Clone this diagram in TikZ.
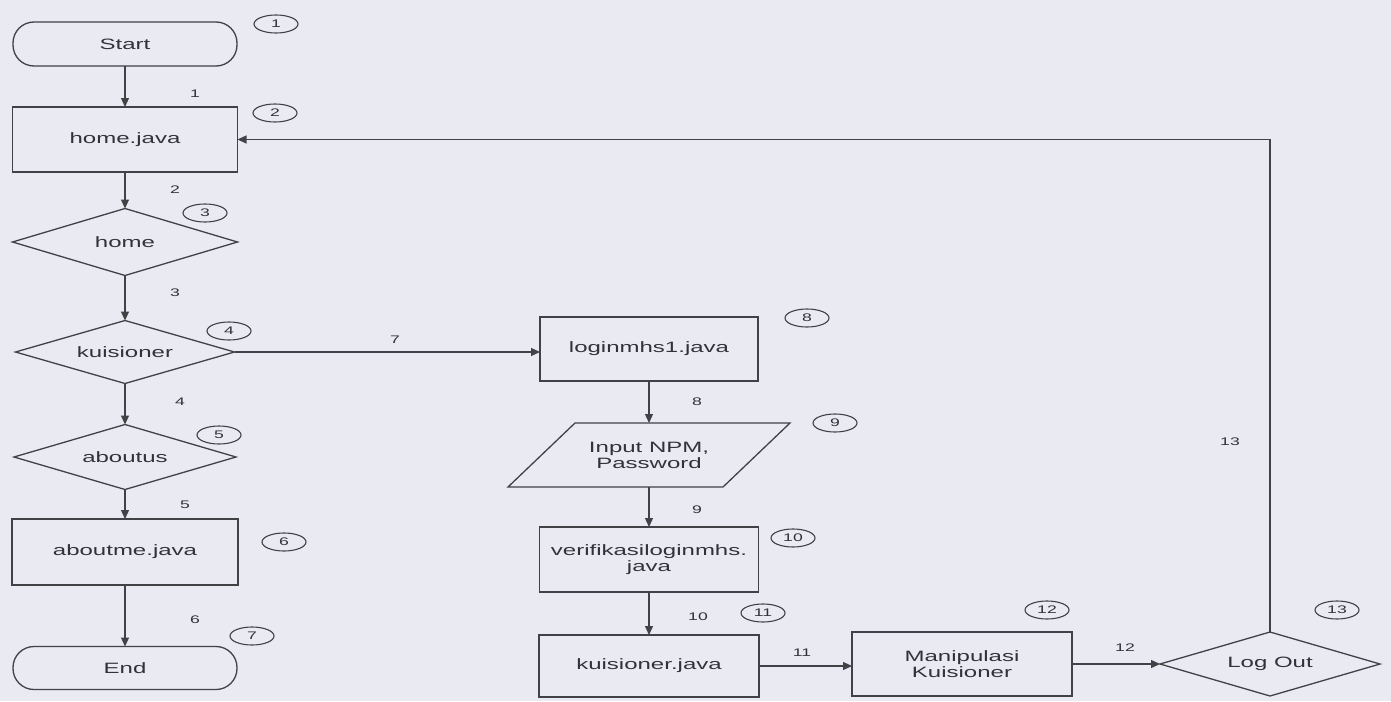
\documentclass[tikz,border=0pt]{standalone}
\usepackage{fontspec}
\newfontfamily\dfont[FakeStretch=1.6]{Liberation Sans}
\usetikzlibrary{arrows.meta,shapes.geometric,calc}
\definecolor{bg}{RGB}{234,234,243}
\definecolor{ln}{RGB}{65,65,70}
\definecolor{tx}{RGB}{50,50,55}
\begin{document}
\begin{tikzpicture}[x=1pt,y=-1pt,
  every node/.style={text=tx,font=\dfont\fontsize{15}{16}\selectfont,inner sep=0pt,outer sep=0pt},
  proc/.style={draw=ln,line width=1.3pt,rectangle,align=center},
  term/.style={draw=ln,line width=1.3pt,rectangle,rounded corners=21pt},
  deci/.style={draw=ln,line width=1.3pt,diamond,aspect=4},
  num/.style={draw=ln,line width=1.1pt,ellipse,minimum width=44pt,minimum height=18pt,font=\dfont\fontsize{11}{12}\selectfont},
  lbl/.style={font=\dfont\fontsize{11}{12}\selectfont},
  conn/.style={draw=ln,line width=1.3pt,-{Triangle[length=9pt,width=8pt]}},
  plainln/.style={draw=ln,line width=1.3pt}
]
\fill[bg] (0,0) rectangle (1391,701);
\useasboundingbox (0,0) rectangle (1391,701);

% left column
\node[term,minimum width=224pt,minimum height=44pt] (start) at (125,44) {Start};
\node[proc,minimum width=225pt,minimum height=65pt] (home) at (125,139.5) {home.java};
\node[deci,minimum width=225pt,minimum height=67pt] (homeD) at (125,242) {home};
\node[deci,minimum width=219pt,minimum height=63pt] (kuisD) at (125,352) {kuisioner};
\node[deci,minimum width=222pt,minimum height=65pt] (aboutD) at (125,457) {aboutus};
\node[proc,minimum width=226pt,minimum height=66pt] (aboutme) at (125,552) {aboutme.java};
\node[term,minimum width=224pt,minimum height=43pt] (end) at (125,668) {End};

% middle column
\node[proc,minimum width=218pt,minimum height=64pt] (login) at (649,349) {loginmhs1.java};
\node[align=center,minimum width=150pt,minimum height=64pt] (inp) at (649,455) {Input NPM,\\Password};
\draw[plainln] (575,423) -- (790,423) -- (723,487) -- (508,487) -- cycle;
\node[proc,minimum width=219pt,minimum height=65pt] (verif) at (649,559.5) {verifikasiloginmhs.\\java};
\node[proc,minimum width=220pt,minimum height=62pt] (kuisJ) at (649,666) {kuisioner.java};
\node[proc,minimum width=220pt,minimum height=64pt] (manip) at (962,664) {Manipulasi\\Kuisioner};
\node[deci,minimum width=220pt,minimum height=64pt] (logout) at (1270,664) {Log Out};

% connectors
\draw[conn] (start.south) -- (home.north);
\draw[conn] (home.south) -- (homeD.north);
\draw[conn] (homeD.south) -- (kuisD.north);
\draw[conn] (kuisD.south) -- (aboutD.north);
\draw[conn] (aboutD.south) -- (aboutme.north);
\draw[conn] (aboutme.south) -- (end.north);
\draw[conn] (kuisD.east) -- (kuisD.east -| login.west);
\draw[conn] (login.south) -- (inp.north);
\draw[conn] (inp.south) -- (verif.north);
\draw[conn] (verif.south) -- (kuisJ.north);
\draw[conn] (kuisJ.east) -- (kuisJ.east -| manip.west);
\draw[conn] (manip.east) -- (logout.west);
\draw[conn] (logout.north) |- (home.east);

% connector labels
\node[lbl] (l1) at (195,94) {1};
\node[lbl] (l2) at (175,190) {2};
\node[lbl] (l3) at (175,293) {3};
\node[lbl] (l4) at (180,402) {4};
\node[lbl] (l5) at (185,505) {5};
\node[lbl] (l6) at (195,620) {6};
\node[lbl] (l7) at (395,340) {7};
\node[lbl] (l8) at (697,402) {8};
\node[lbl] (l9) at (697,510) {9};
\node[lbl] (l10) at (698,617) {10};
\node[lbl] (l11) at (802,653) {11};
\node[lbl] (l12) at (1125,648) {12};
\node[lbl] (l13) at (1230,442) {13};

% step numbers
\node[num] (n1) at (276,24) {1};
\node[num] (n2) at (275,113) {2};
\node[num] (n3) at (205,213) {3};
\node[num] (n4) at (229,331) {4};
\node[num] (n5) at (219,435) {5};
\node[num] (n6) at (284,542) {6};
\node[num] (n7) at (252,636) {7};
\node[num] (n8) at (807,318) {8};
\node[num] (n9) at (835,423) {9};
\node[num] (n10) at (793,538) {10};
\node[num] (n11) at (763,613) {11};
\node[num] (n12) at (1047,610) {12};
\node[num] (n13) at (1337,610) {13};
\end{tikzpicture}
\end{document}
